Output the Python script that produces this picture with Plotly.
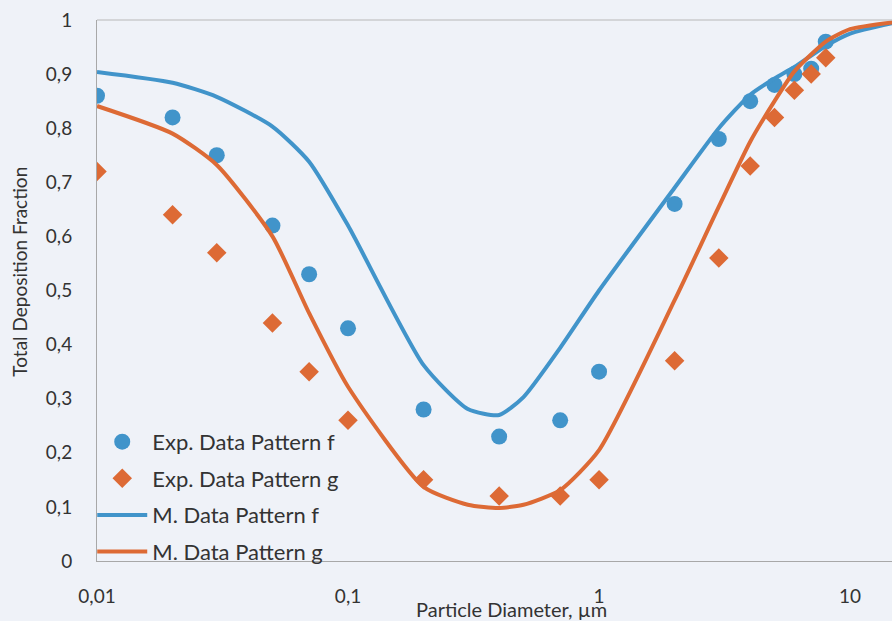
import plotly.graph_objects as go

# Particle diameters (µm) of the experimental points
exp_d = [0.01, 0.02, 0.03, 0.05, 0.07, 0.1, 0.2, 0.4, 0.7, 1, 2, 3, 4, 5, 6, 7, 8]
exp_f = [0.86, 0.82, 0.75, 0.62, 0.53, 0.43, 0.28, 0.23, 0.26, 0.35, 0.66, 0.78, 0.85, 0.88, 0.90, 0.91, 0.96]
exp_g = [0.72, 0.64, 0.57, 0.44, 0.35, 0.26, 0.15, 0.12, 0.12, 0.15, 0.37, 0.56, 0.73, 0.82, 0.87, 0.90, 0.93]

# Model curves
mod_d = [0.01, 0.02, 0.03, 0.05, 0.07, 0.1, 0.2, 0.3, 0.4, 0.5, 0.7, 1, 2, 3, 4, 5, 6, 8, 10, 15]
mod_f = [0.904, 0.884, 0.858, 0.803, 0.738, 0.62, 0.362, 0.281, 0.270, 0.303, 0.394, 0.50,
         0.69, 0.80, 0.862, 0.892, 0.913, 0.952, 0.975, 0.995]
mod_g = [0.841, 0.79, 0.732, 0.60, 0.458, 0.322, 0.137, 0.104, 0.098, 0.104, 0.131, 0.205,
         0.482, 0.655, 0.775, 0.850, 0.905, 0.960, 0.983, 0.996]

x_ticks = [0.01, 0.1, 1, 10]
x_ticktext = ["0,01", "0,1", "1", "10"]

BLUE = "#4194ca"
ORANGE = "#dd6a35"
BG = "#eff2f8"
TEXT = "#333333"
FONT = "Lato"

fig = go.Figure()
fig.add_trace(go.Scatter(x=exp_d, y=exp_f, mode="markers", name="Exp. Data Pattern f",
                         legendgroup="a",
                         marker=dict(symbol="circle", size=16, color=BLUE)))
fig.add_trace(go.Scatter(x=exp_d, y=exp_g, mode="markers", name="Exp. Data Pattern g",
                         legendgroup="b",
                         marker=dict(symbol="diamond", size=15, color=ORANGE)))
fig.add_trace(go.Scatter(x=mod_d, y=mod_f, mode="lines", name="M. Data Pattern f",
                         legendgroup="c",
                         line=dict(color=BLUE, width=4, shape="spline", smoothing=0.6)))
fig.add_trace(go.Scatter(x=mod_d, y=mod_g, mode="lines", name="M. Data Pattern g",
                         legendgroup="d",
                         line=dict(color=ORANGE, width=4, shape="spline", smoothing=0.6)))

fig.update_layout(
    width=892, height=621,
    margin=dict(l=97, r=0, t=20, b=60),
    paper_bgcolor=BG, plot_bgcolor=BG,
    separators=",.",
    font=dict(family=FONT, color=TEXT, size=19),
    showlegend=True,
    legend=dict(x=-0.006, y=-0.022, xanchor="left", yanchor="bottom",
                bgcolor="rgba(0,0,0,0)", font=dict(size=22, color=TEXT),
                itemwidth=50, tracegroupgap=5),
    xaxis=dict(type="log", range=[-2, 1.167], tickvals=x_ticks, ticktext=x_ticktext,
               showgrid=False, zeroline=False, showline=True, linecolor="#a8a8a8", linewidth=1,
               ticks="outside", ticklen=18, tickcolor="rgba(0,0,0,0)",
               tickfont=dict(size=19, color=TEXT)),
    yaxis=dict(range=[0, 1], dtick=0.1, showgrid=False, zeroline=False,
               showline=True, linecolor="#a8a8a8", linewidth=1,
               ticks="outside", ticklen=20, tickcolor="rgba(0,0,0,0)",
               tickfont=dict(size=19, color=TEXT)),
    shapes=[dict(type="line", xref="paper", yref="paper", x0=0, x1=1, y0=1, y1=1,
                 line=dict(color="#b8b8b8", width=1))],
    annotations=[
        dict(text="Particle Diameter, µm", xref="paper", yref="paper", x=0.522, y=-0.088,
             showarrow=False, font=dict(size=20, color=TEXT), xanchor="center", yanchor="middle"),
        dict(text="Total Deposition Fraction", xref="paper", yref="paper", x=-0.098, y=0.535,
             showarrow=False, textangle=-90, font=dict(size=19, color=TEXT),
             xanchor="center", yanchor="middle"),
    ],
)

fig.write_html("out.html")
